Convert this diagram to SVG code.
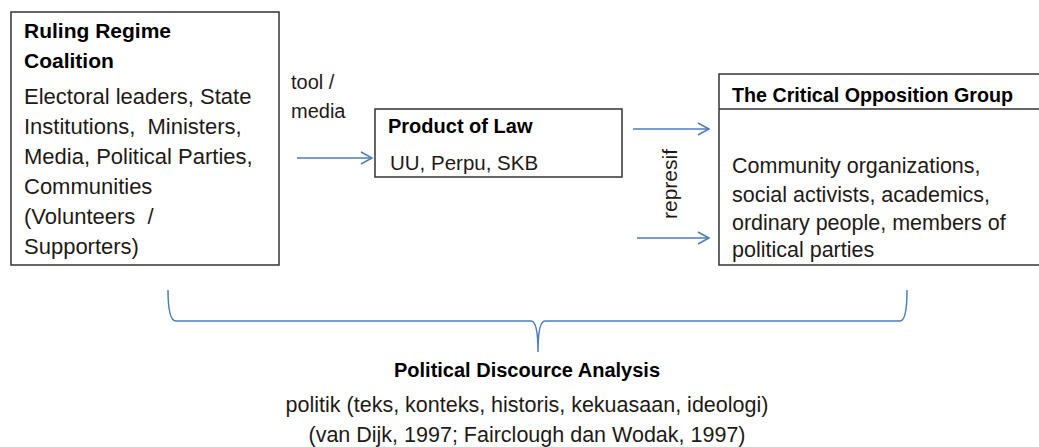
<svg xmlns="http://www.w3.org/2000/svg" width="1039" height="447" viewBox="0 0 1039 447">
<style>
.box{fill:#fff;stroke:#333;stroke-width:1.5}
.t{font-family:"Liberation Sans",Arial,sans-serif;font-size:21.5px;fill:#1e1a16}
.b{font-family:"Liberation Sans",Arial,sans-serif;font-size:20px;font-weight:bold;fill:#000}
.c{fill:none;stroke:#4A7EBB;stroke-width:1.5}
</style>
<defs>
<marker id="arr" markerWidth="14" markerHeight="14" refX="12" refY="7" orient="auto" markerUnits="userSpaceOnUse">
<path d="M1,1 L12,7 L1,13" fill="none" stroke="#4A7EBB" stroke-width="1.5"/>
</marker>
</defs>
<rect width="1039" height="447" fill="#fff"/>
<g id="ruling-regime">
<rect class="box" x="11" y="12" width="268" height="253"/>
<text class="b" x="24" y="38" style="font-size:21px">Ruling Regime</text>
<text class="b" x="24" y="68" style="font-size:21px">Coalition</text>
<text class="t" x="24" y="104" style="font-size:22px">Electoral leaders, State</text>
<text class="t" x="24" y="134" style="font-size:22px">Institutions,&#160; Ministers,</text>
<text class="t" x="24" y="164" style="font-size:22px">Media, Political Parties,</text>
<text class="t" x="24" y="194" style="font-size:22px">Communities</text>
<text class="t" x="24" y="224" style="font-size:22px">(Volunteers&#160; /</text>
<text class="t" x="24" y="254" style="font-size:22px">Supporters)</text>
</g>
<g id="product-of-law">
<rect class="box" x="375" y="109" width="247" height="68"/>
<text class="b" x="388" y="133">Product of Law</text>
<text class="t" x="390" y="170" style="font-size:20.5px">UU, Perpu, SKB</text>
</g>
<g id="opposition-group">
<rect class="box" x="719" y="74" width="330" height="191"/>
<line x1="719" y1="109" x2="1049" y2="109" stroke="#333" stroke-width="1.5"/>
<text class="b" x="732" y="102" style="font-size:19.7px">The Critical Opposition Group</text>
<text class="t" x="732" y="173">Community organizations,</text>
<text class="t" x="732" y="202">social activists, academics,</text>
<text class="t" x="732" y="230">ordinary people, members of</text>
<text class="t" x="732" y="257">political parties</text>
</g>
<g id="connectors">
<line class="c" x1="297" y1="158" x2="372" y2="158" marker-end="url(#arr)"/>
<line class="c" x1="633" y1="129" x2="709" y2="129" marker-end="url(#arr)"/>
<line class="c" x1="637" y1="238" x2="709" y2="238" marker-end="url(#arr)"/>
<path class="c" d="M168,290 Q168,321 176,321 L531,321 Q538,321 538,352 Q538,321 545,321 L900,321 Q907,321 907,290"/>
<text class="t" x="291" y="89" style="font-size:20px">tool /</text>
<text class="t" x="291" y="118" style="font-size:20px">media</text>
<text class="t" x="677" y="184" text-anchor="middle" transform="rotate(-90 677 184)" style="font-size:21px">represif</text>
</g>
<g id="analysis">
<text class="b" x="527" y="377" text-anchor="middle">Political Discource Analysis</text>
<text class="t" x="527" y="412" text-anchor="middle">politik (teks, konteks, historis, kekuasaan, ideologi)</text>
<text class="t" x="527" y="442" text-anchor="middle">(van Dijk, 1997; Fairclough dan Wodak, 1997)</text>
</g>
</svg>
